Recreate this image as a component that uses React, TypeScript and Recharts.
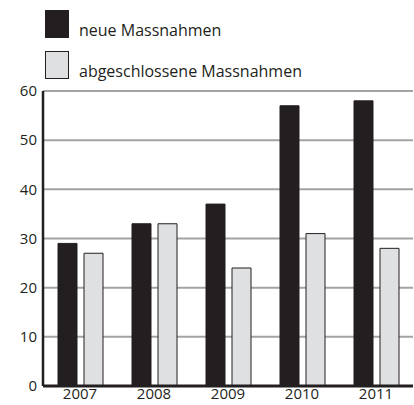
import React from 'react';
import { BarChart, Bar, XAxis, YAxis, CartesianGrid } from 'recharts';

const years = ['2007', '2008', '2009', '2010', '2011'];
const neueMassnahmen = [29, 33, 37, 57, 58];
const abgeschlosseneMassnahmen = [27, 33, 24, 31, 28];
const yTicks = [0, 10, 20, 30, 40, 50, 60];

const DARK = '#231f20';
const LIGHT = '#dfe0e2';
const FONT = '"Open Sans", "Noto Sans", sans-serif';

const data = years.map((year, i) => ({
  year,
  neu: neueMassnahmen[i],
  abgeschlossen: abgeschlosseneMassnahmen[i],
}));

const LegendBox = ({ color, label, top }: { color: string; label: string; top: number }) => (
  <div style={{ position: 'absolute', left: 45, top, display: 'flex', alignItems: 'center' }}>
    <div style={{ width: 22, height: 26, background: color, border: `1px solid ${DARK}` }} />
    <span style={{ marginLeft: 10, marginTop: 12, fontSize: 16, color: DARK, fontFamily: FONT }}>{label}</span>
  </div>
);

export default function App() {
  return (
    <div style={{ position: 'absolute', left: 0, top: 0, width: 414, height: 405, background: '#fff' }}>
      <LegendBox color={DARK} label="neue Massnahmen" top={7} />
      <LegendBox color={LIGHT} label="abgeschlossene Massnahmen" top={48} />
      <BarChart
        width={414}
        height={405}
        data={data}
        margin={{ top: 91, right: 1, left: 0, bottom: 0 }}
        barSize={19}
        barGap={7}
      >
        <CartesianGrid vertical={false} stroke="#a3a3a3" strokeWidth={2} />
        <XAxis
          dataKey="year"
          height={19}
          axisLine={{ stroke: DARK, strokeWidth: 3 }}
          tickLine={false}
          tickSize={2}
          tickMargin={0}
          tick={{ fill: DARK, fontSize: 15, fontFamily: FONT }}
        />
        <YAxis
          width={43}
          domain={[0, 60]}
          ticks={yTicks}
          axisLine={{ stroke: DARK, strokeWidth: 2.5 }}
          tickLine={false}
          tickSize={6}
          tickMargin={0}
          tick={{ fill: DARK, fontSize: 15, fontFamily: FONT }}
        />
        <Bar dataKey="neu" fill={DARK} stroke={DARK} strokeWidth={1} isAnimationActive={false} />
        <Bar dataKey="abgeschlossen" fill={LIGHT} stroke={DARK} strokeWidth={1} isAnimationActive={false} />
      </BarChart>
    </div>
  );
}
